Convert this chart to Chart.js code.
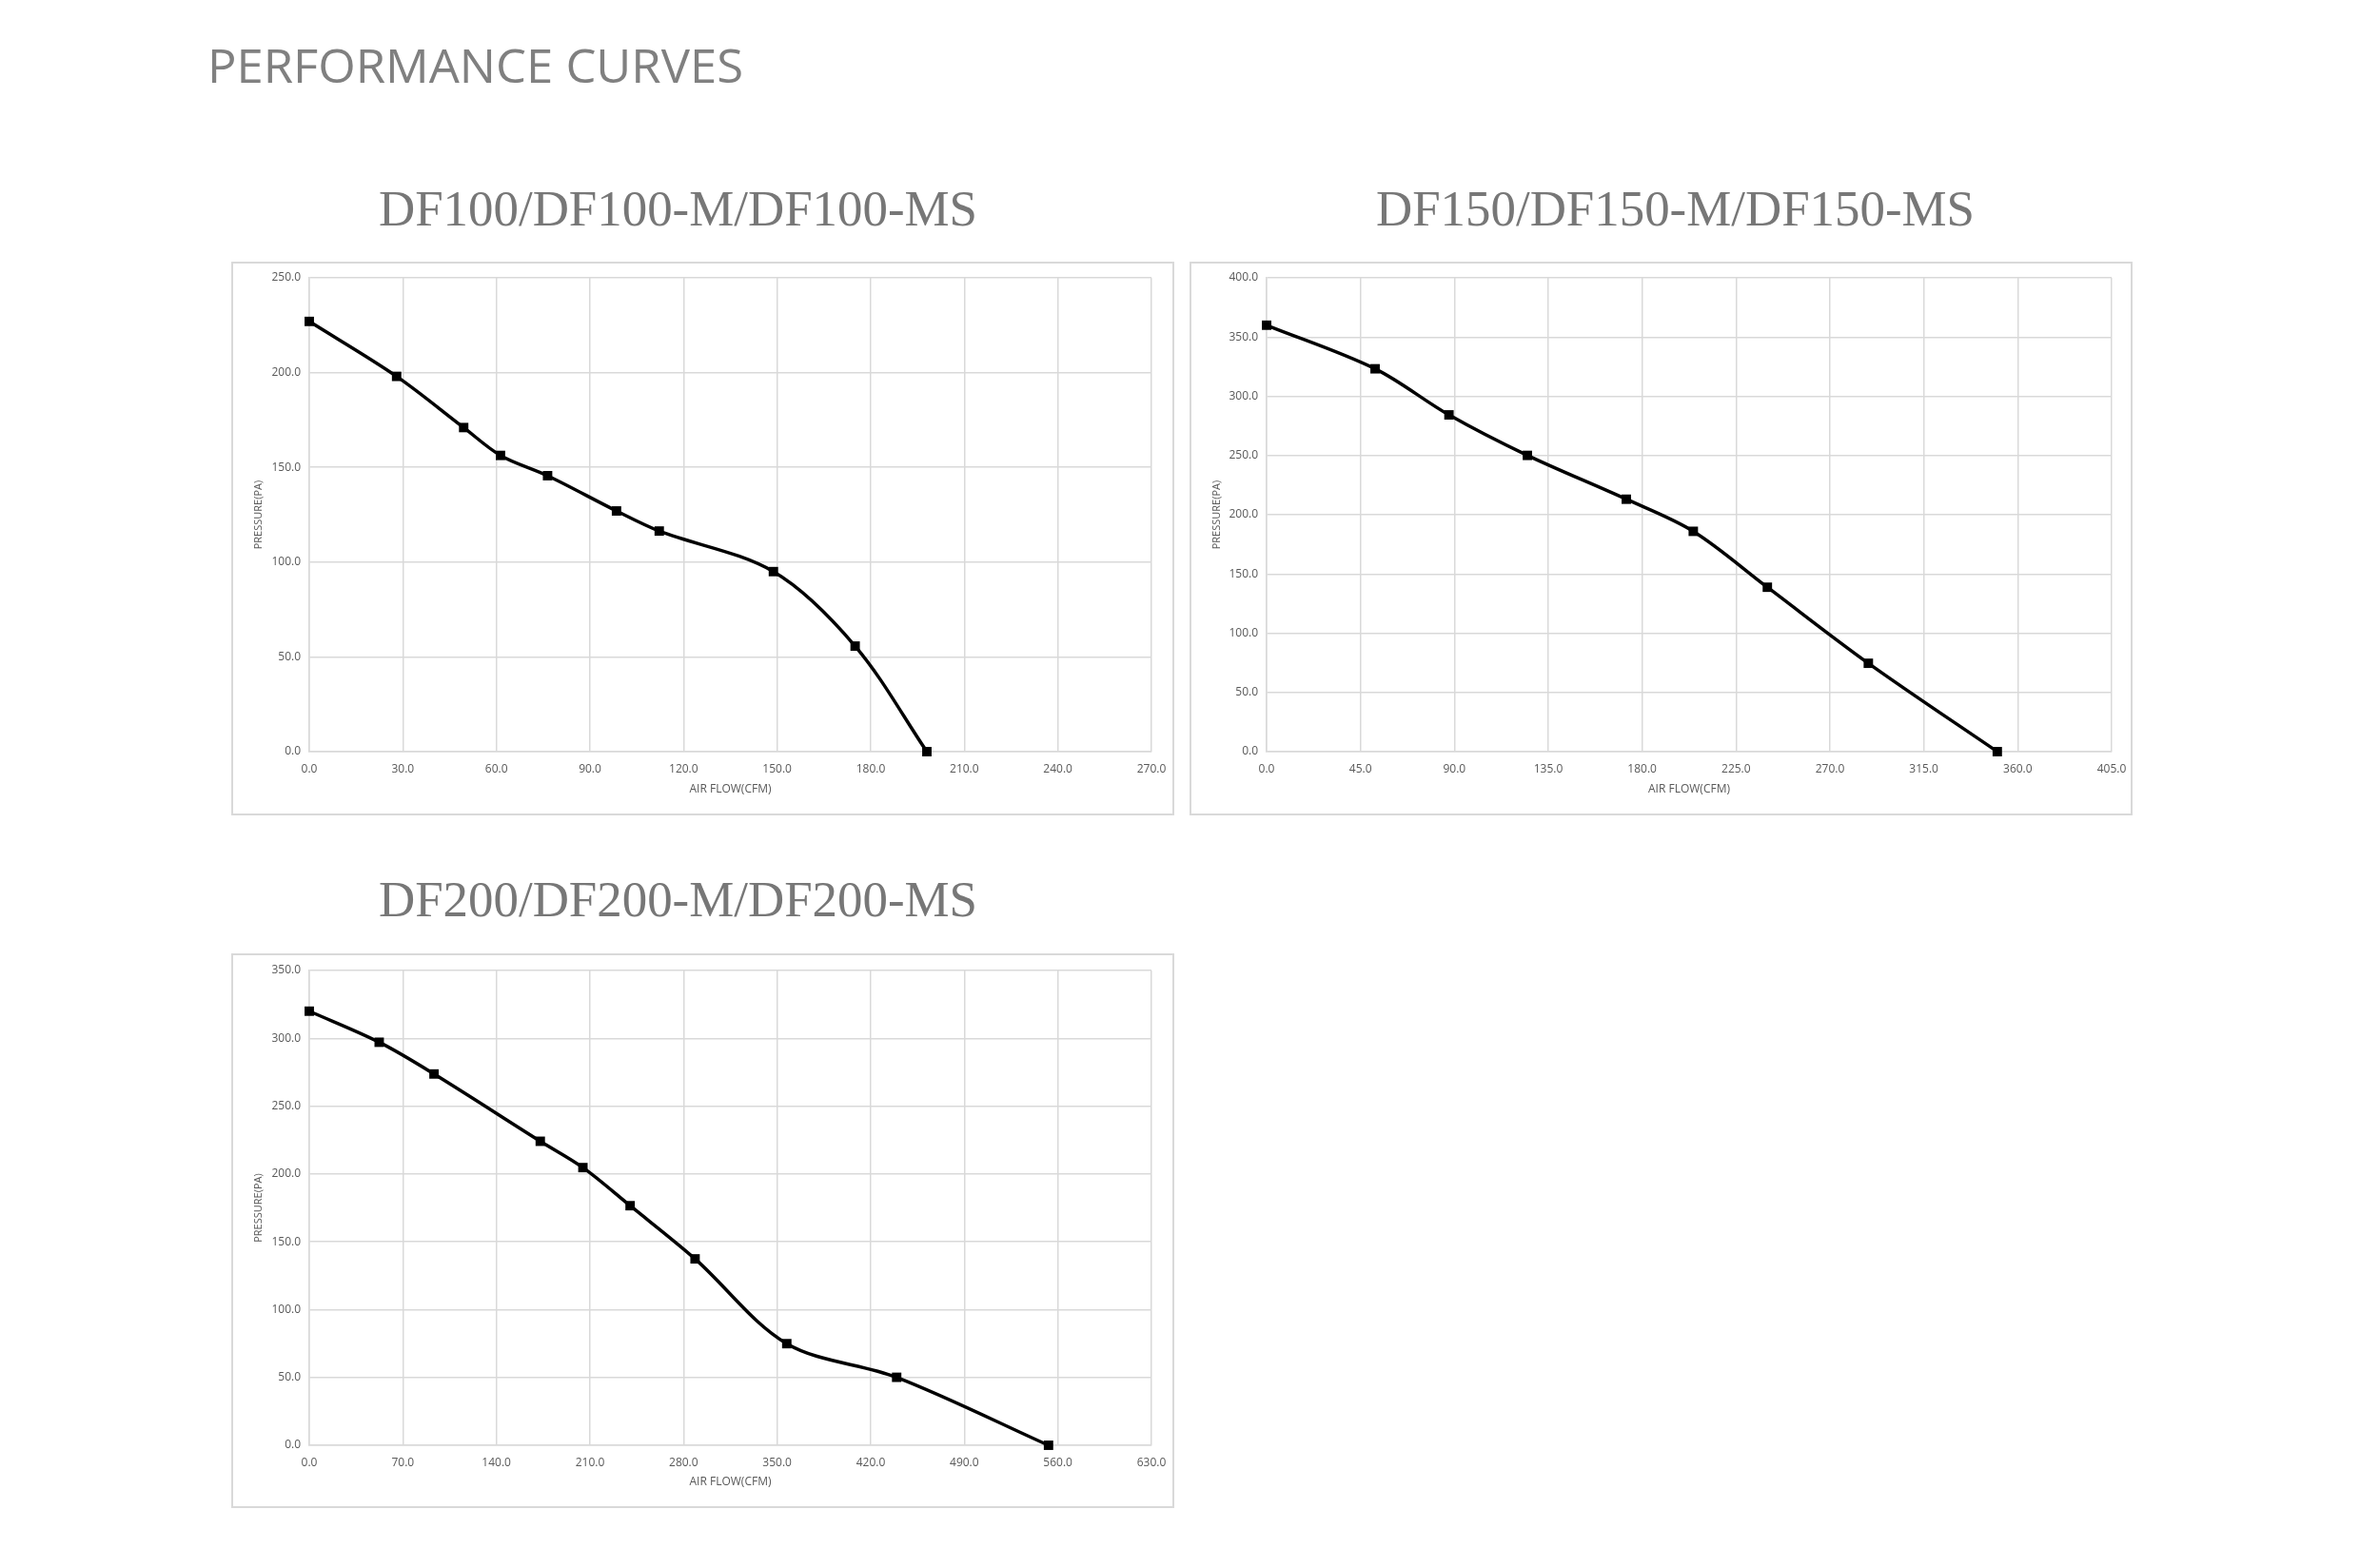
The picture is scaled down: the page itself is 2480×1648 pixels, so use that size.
<!DOCTYPE html>
<html><head><meta charset="utf-8">
<script src="https://cdn.jsdelivr.net/npm/chart.js@4.4.0/dist/chart.umd.min.js"></script>
<style>
html,body{margin:0;padding:0;background:#fff;}
body{width:2480px;height:1648px;position:relative;overflow:hidden;}
.t{position:absolute;top:0;left:0;white-space:nowrap;transform-origin:0 0;}
.s{display:inline-block;}
.b{display:inline-block;width:0;height:0;vertical-align:baseline;}
.box{position:absolute;}
.frame{position:absolute;left:0;top:0;right:0;bottom:0;box-sizing:border-box;border:2px solid #d9d9d9;pointer-events:none;}
canvas{position:absolute;left:0;top:0;}
</style></head><body>

<div class="t" id="mainTitle" style="font-family:'Open Sans';font-size:48.5px;line-height:48.5px;color:#808080;"><span class="s">PERFORMANCE CURVES</span><span class="b"></span></div>
<div class="t" id="t1" style="font-family:'Liberation Serif';font-size:52px;line-height:52px;color:#777777;"><span class="s">DF100/DF100-M/DF100-MS</span><span class="b"></span></div>
<div class="t" id="t2" style="font-family:'Liberation Serif';font-size:52px;line-height:52px;color:#777777;"><span class="s">DF150/DF150-M/DF150-MS</span><span class="b"></span></div>
<div class="t" id="t3" style="font-family:'Liberation Serif';font-size:52px;line-height:52px;color:#777777;"><span class="s">DF200/DF200-M/DF200-MS</span><span class="b"></span></div>

<div class="box" style="left:243px;top:275px;width:991px;height:582px;"><canvas id="c1" width="991" height="582"></canvas><div class="frame"></div></div>
<div class="box" style="left:1250px;top:275px;width:991px;height:582px;"><canvas id="c2" width="991" height="582"></canvas><div class="frame"></div></div>
<div class="box" style="left:243px;top:1002px;width:991px;height:583px;"><canvas id="c3" width="991" height="583"></canvas><div class="frame"></div></div>

<script>
// ---- data ----
const df100Flow     = [0, 28, 49.5, 61.3, 76.4, 98.5, 112.2, 148.8, 175, 198];
const df100Pressure = [227, 198, 171, 156.3, 145.6, 127, 116.4, 95, 55.7, 0];
const df100XTicks   = [0, 30, 60, 90, 120, 150, 180, 210, 240, 270];
const df100YTicks   = [0, 50, 100, 150, 200, 250];

const df150Flow     = [0, 52, 87.4, 125, 172.4, 204.5, 240, 288.4, 350.2];
const df150Pressure = [360, 323.2, 284.3, 250.1, 213.1, 186, 138.8, 74.6, 0];
const df150XTicks   = [0, 45, 90, 135, 180, 225, 270, 315, 360, 405];
const df150YTicks   = [0, 50, 100, 150, 200, 250, 300, 350, 400];

const df200Flow     = [0, 52.3, 93.3, 172.8, 204.7, 240, 288.6, 357.2, 439.4, 553];
const df200Pressure = [320, 297.1, 273.7, 224.1, 204.7, 176.6, 137.4, 74.9, 50.1, 0];
const df200XTicks   = [0, 70, 140, 210, 280, 350, 420, 490, 560, 630];
const df200YTicks   = [0, 50, 100, 150, 200, 250, 300, 350];

const xAxisTitle = 'AIR FLOW(CFM)';
const yAxisTitle = 'PRESSURE(PA)';

const GRID = '#d9d9d9';
const TXT = '#595959';

function makeChart(id, flow, pressure, xTicks, yTicks, lay) {
  const pts = flow.map((x, i) => ({x: x, y: pressure[i]}));
  return new Chart(document.getElementById(id), {
    type: 'line',
    data: {datasets: [{
      data: pts,
      borderColor: '#000', borderWidth: 3.5, tension: 0.33,
      pointStyle: 'rect', pointRadius: 7, pointBackgroundColor: '#000',
      pointBorderColor: '#000', pointBorderWidth: 0, clip: false, fill: false
    }]},
    options: {
      responsive: false, animation: false, events: [],
      layout: {padding: {top: lay.top, right: lay.right, left: 0, bottom: 0}},
      plugins: {legend: {display: false}, tooltip: {enabled: false}},
      scales: {
        x: {
          type: 'linear', min: xTicks[0], max: xTicks[xTicks.length - 1],
          afterBuildTicks: s => { s.ticks = xTicks.map(v => ({value: v})); },
          ticks: {callback: v => Number(v).toFixed(1), color: TXT,
                  font: {family: 'Open Sans', size: 12}, padding: 11, maxRotation: 0, autoSkip: false},
          grid: {color: GRID, lineWidth: 1.5, drawTicks: false},
          border: {color: GRID, width: 1.5},
          title: {display: true, text: xAxisTitle, color: TXT,
                  font: {family: 'Open Sans', size: 12}, padding: {top: 0, bottom: 20}},
          afterFit: s => { s.height = lay.bottom; s.paddingLeft = 0; s.paddingRight = 0; s.paddingTop = 0; s.paddingBottom = 0; }
        },
        y: {
          type: 'linear', min: yTicks[0], max: yTicks[yTicks.length - 1],
          afterBuildTicks: s => { s.ticks = yTicks.map(v => ({value: v})); },
          ticks: {callback: v => Number(v).toFixed(1), color: TXT,
                  font: {family: 'Open Sans', size: 12}, padding: 9, autoSkip: false},
          grid: {color: GRID, lineWidth: 1.5, drawTicks: false},
          border: {color: GRID, width: 1.5},
          title: {display: true, text: yAxisTitle, color: TXT,
                  font: {family: 'Open Sans', size: 11}, padding: {top: 22, bottom: 0}},
          afterFit: s => { s.width = lay.left; s.paddingLeft = 0; s.paddingRight = 0; s.paddingTop = 0; s.paddingBottom = 0; }
        }
      }
    }
  });
}

function placeText(id, left, baseline, width) {
  const el = document.getElementById(id);
  const by = el.querySelector('.b').getBoundingClientRect().top;
  el.style.top = (baseline - by) + 'px';
  el.style.left = left + 'px';
  const w = el.querySelector('.s').getBoundingClientRect().width;
  el.style.transform = 'scaleX(' + (width / w) + ')';
}

function go() {
  placeText('mainTitle', 218, 87, 563);
  placeText('t1', 398, 237, 629);
  placeText('t2', 1446, 237, 629);
  placeText('t3', 398, 963, 629);
  makeChart('c1', df100Flow, df100Pressure, df100XTicks, df100YTicks, {top: 17, right: 24, left: 82, bottom: 67});
  makeChart('c2', df150Flow, df150Pressure, df150XTicks, df150YTicks, {top: 17, right: 22, left: 81, bottom: 67});
  makeChart('c3', df200Flow, df200Pressure, df200XTicks, df200YTicks, {top: 18, right: 24, left: 82, bottom: 66});
}
if (document.fonts && document.fonts.ready) { document.fonts.ready.then(go); } else { go(); }
</script>
</body></html>
